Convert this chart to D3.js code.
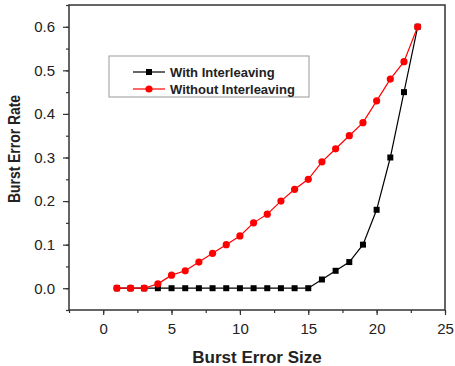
<!DOCTYPE html>
<html>
<head>
<meta charset="utf-8">
<script src="https://cdn.jsdelivr.net/npm/d3@7"></script>
<style>
  body { margin: 0; background: #fff; }
  text { font-family: Arial, "Liberation Sans", sans-serif; fill: #222; }
</style>
</head>
<body>
<div id="chart"></div>
<script>
const burstSizes = [1, 2, 3, 4, 5, 6, 7, 8, 9, 10, 11, 12, 13, 14, 15, 16, 17, 18, 19, 20, 21, 22, 23];
const withInterleaving = [0, 0, 0, 0, 0, 0, 0, 0, 0, 0, 0, 0, 0, 0, 0, 0.02, 0.04, 0.06, 0.1, 0.18, 0.3, 0.45, 0.6];
const withoutInterleaving = [0, 0, 0, 0.01, 0.03, 0.04, 0.06, 0.08, 0.1, 0.12, 0.15, 0.17, 0.2, 0.227, 0.25, 0.29, 0.32, 0.35, 0.38, 0.43, 0.48, 0.52, 0.6];
const xTicks = [0, 5, 10, 15, 20, 25];
const yTicks = [0, 0.1, 0.2, 0.3, 0.4, 0.5, 0.6];
const seriesNames = ["With Interleaving", "Without Interleaving"];

const width = 455;
const height = 366;
const margin = { top: 5, right: 10, bottom: 56, left: 69 };

const x = d3
  .scaleLinear()
  .domain([-2.5, 25])
  .range([margin.left, width - margin.right]);
const y = d3
  .scaleLinear()
  .domain([-0.05, 0.65])
  .range([height - margin.bottom, margin.top]);

const svg = d3
  .select("#chart")
  .append("svg")
  .attr("width", width)
  .attr("height", height);

// minor ticks
const xMinor = d3.range(-2.5, 25.01, 2.5);
const yMinor = d3.range(-0.05, 0.651, 0.05);

svg
  .append("g")
  .attr("transform", `translate(0,${y.range()[0]})`)
  .call(d3.axisBottom(x).tickValues(xMinor).tickSize(3).tickFormat(""))
  .call((g) => g.select(".domain").remove())
  .call((g) => g.selectAll("line").attr("stroke", "#333").attr("stroke-width", 1.2));

svg
  .append("g")
  .attr("transform", `translate(${x.range()[0]},0)`)
  .call(d3.axisLeft(y).tickValues(yMinor).tickSize(3).tickFormat(""))
  .call((g) => g.select(".domain").remove())
  .call((g) => g.selectAll("line").attr("stroke", "#333").attr("stroke-width", 1.2));

// major ticks with labels
svg
  .append("g")
  .attr("transform", `translate(0,${y.range()[0]})`)
  .call(d3.axisBottom(x).tickValues(xTicks).tickSize(5).tickPadding(8).tickFormat(d3.format("d")))
  .call((g) => g.select(".domain").remove())
  .call((g) => g.selectAll("line").attr("stroke", "#333").attr("stroke-width", 1.2))
  .call((g) => g.selectAll("text").attr("font-size", 15).attr("fill", "#222"));

svg
  .append("g")
  .attr("transform", `translate(${x.range()[0]},0)`)
  .call(d3.axisLeft(y).tickValues(yTicks).tickSize(6).tickPadding(8).tickFormat(d3.format(".1f")))
  .call((g) => g.select(".domain").remove())
  .call((g) => g.selectAll("line").attr("stroke", "#333").attr("stroke-width", 1.2))
  .call((g) => g.selectAll("text").attr("font-size", 15).attr("fill", "#222"));

// frame
svg
  .append("rect")
  .attr("x", x.range()[0])
  .attr("y", y.range()[1])
  .attr("width", x.range()[1] - x.range()[0])
  .attr("height", y.range()[0] - y.range()[1])
  .attr("fill", "none")
  .attr("stroke", "#333")
  .attr("stroke-width", 1.5);

const line = d3
  .line()
  .x((d) => x(d[0]))
  .y((d) => y(d[1]));

const series = [
  { name: seriesNames[0], values: withInterleaving, color: "#000", marker: "square" },
  { name: seriesNames[1], values: withoutInterleaving, color: "#f00", marker: "circle" },
];

series.forEach((s) => {
  const pts = burstSizes.map((b, i) => [b, s.values[i]]);
  const g = svg.append("g");
  g.append("path")
    .attr("d", line(pts))
    .attr("fill", "none")
    .attr("stroke", s.color)
    .attr("stroke-width", 1.2);
  drawMarkers(g, pts, s);
});

function drawMarkers(g, pts, s) {
  if (s.marker === "square") {
    g.selectAll("rect")
      .data(pts)
      .join("rect")
      .attr("x", (d) => x(d[0]) - 3)
      .attr("y", (d) => y(d[1]) - 3)
      .attr("width", 6)
      .attr("height", 6)
      .attr("fill", s.color);
  } else {
    g.selectAll("circle")
      .data(pts)
      .join("circle")
      .attr("cx", (d) => x(d[0]))
      .attr("cy", (d) => y(d[1]))
      .attr("r", 3.6)
      .attr("fill", s.color);
  }
}

// legend
const legend = svg.append("g").attr("transform", "translate(109,56)");
legend
  .append("rect")
  .attr("width", 200)
  .attr("height", 41)
  .attr("fill", "#fff")
  .attr("stroke", "#999")
  .attr("stroke-width", 1);

series.forEach((s, i) => {
  const row = legend.append("g").attr("transform", `translate(0,${16 + i * 17})`);
  row.append("line")
    .attr("x1", 24)
    .attr("x2", 56)
    .attr("stroke", s.color)
    .attr("stroke-width", 1.2);
  drawMarkers(row, [[0, 0]], s);
  row.selectAll("rect, circle")
    .attr("transform", `translate(${40 - x(0)},${-y(0)})`);
  row.append("text")
    .attr("x", 61)
    .attr("y", 5)
    .attr("font-size", 13)
    .attr("font-weight", "bold")
    .text(s.name);
});

// axis titles
svg
  .append("text")
  .attr("x", 257)
  .attr("y", 363)
  .attr("text-anchor", "middle")
  .attr("font-size", 17)
  .attr("font-weight", "bold")
  .text("Burst Error Size");

svg
  .append("text")
  .attr("transform", "translate(20,149) rotate(-90)")
  .attr("text-anchor", "middle")
  .attr("font-size", 17)
  .attr("font-weight", "bold")
  .attr("textLength", 108)
  .attr("lengthAdjust", "spacingAndGlyphs")
  .text("Burst Error Rate");
</script>
</body>
</html>
